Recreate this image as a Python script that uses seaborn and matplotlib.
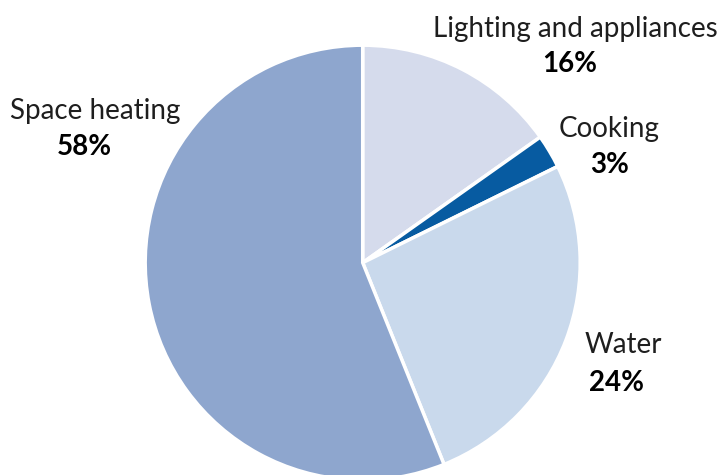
import matplotlib
matplotlib.use("Agg")
import matplotlib.pyplot as plt
import seaborn as sns

# energy use shares (clockwise from 12 o'clock)
categories = ["Lighting and appliances", "Cooking", "Water", "Space heating"]
shares = [15.2, 2.5, 26.2, 56.1]
pct_labels = ["16%", "3%", "24%", "58%"]
colors = ["#d5dbec", "#075ba1", "#c9d9ec", "#8ea6ce"]

sns.set_theme(style="white")
plt.rcParams['font.family'] = ['Lato', 'DejaVu Sans']

fig = plt.figure(figsize=(7.21, 4.75), dpi=100)
ax = fig.add_axes([0, 0, 1, 1])

ax.pie(shares, colors=colors, startangle=90, counterclock=False,
       center=(362.7, 475 - 262.7), radius=217.5,
       wedgeprops=dict(edgecolor='white', linewidth=2.5))
ax.set_xlim(0, 721)
ax.set_ylim(0, 475)
ax.set_aspect('equal')
ax.axis('off')

# label positions (pixel coords, y from top): name centre x, name baseline, pct centre x, pct baseline
label_pos = {
    "Lighting and appliances": (575, 37, 570, 72),
    "Cooking": (609, 137, 610, 173),
    "Water": (623, 353, 616, 391),
    "Space heating": (95, 119, 84, 155),
}
for name, pct in zip(categories, pct_labels):
    nx, ny, px, py = label_pos[name]
    ax.text(nx, 475 - ny, name, ha='center', va='baseline', fontsize=20, color='#1e1e1e')
    ax.text(px, 475 - py, pct, ha='center', va='baseline', fontsize=20,
            fontweight='bold', color='#000000')

fig.savefig("out.png", dpi=100)
